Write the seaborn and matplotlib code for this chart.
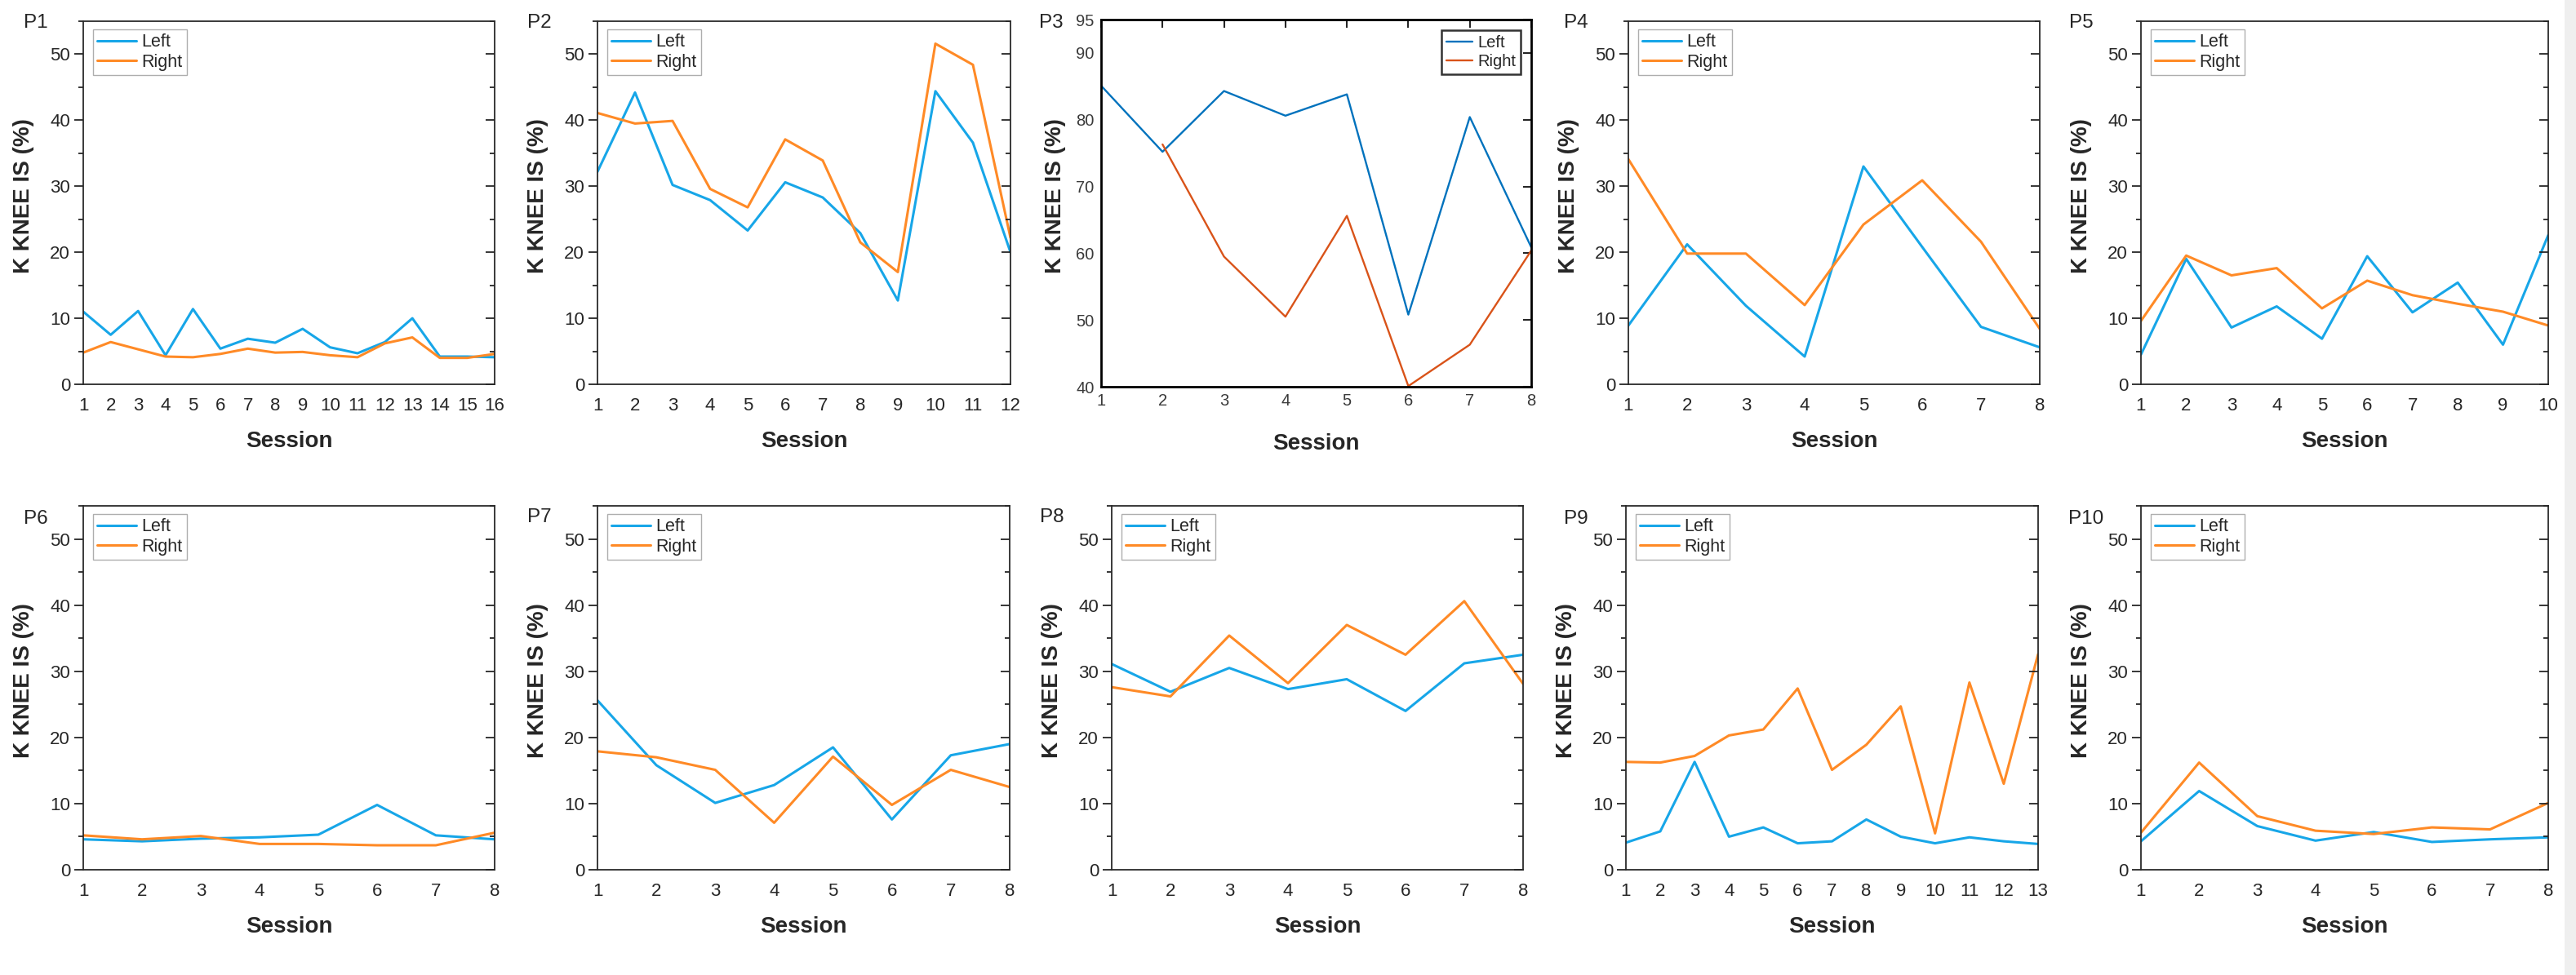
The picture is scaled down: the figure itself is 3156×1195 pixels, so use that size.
import numpy as np
import matplotlib
matplotlib.use("Agg")
import matplotlib.pyplot as plt
from matplotlib.ticker import MultipleLocator
from matplotlib.patches import Rectangle
import seaborn as sns

sns.set_style("white")
plt.rcParams["font.family"] = ["Liberation Sans", "DejaVu Sans"]

# K KNEE IS (%) per session, left and right leg
p1_left = [11.0, 7.5, 11.1, 4.4, 11.4, 5.4, 6.9, 6.3, 8.4, 5.6, 4.7, 6.4, 10.0, 4.2, 4.2, 4.1]
p1_right = [4.8, 6.4, 5.3, 4.2, 4.1, 4.6, 5.4, 4.8, 4.9, 4.4, 4.1, 6.2, 7.1, 4.0, 4.0, 4.6]
p2_left = [32.2, 44.2, 30.2, 27.9, 23.3, 30.6, 28.3, 22.9, 12.7, 44.4, 36.6, 20.0]
p2_right = [41.1, 39.5, 39.9, 29.6, 26.8, 37.1, 33.9, 21.5, 17.0, 51.6, 48.4, 22.2]
p3_left = [85.1, 75.2, 84.3, 80.6, 83.8, 50.8, 80.4, 60.9]
p3_right = [np.nan, 76.3, 59.5, 50.5, 65.6, 40.1, 46.3, 60.4]
p4_left = [8.9, 21.2, 11.9, 4.2, 33.0, 20.8, 8.7, 5.6]
p4_right = [34.1, 19.8, 19.8, 12.0, 24.2, 30.9, 21.6, 8.4]
p5_left = [4.5, 19.0, 8.6, 11.8, 6.9, 19.4, 10.9, 15.4, 6.0, 22.6]
p5_right = [9.6, 19.5, 16.5, 17.6, 11.5, 15.7, 13.5, 12.2, 11.0, 8.9]
p6_left = [4.6, 4.3, 4.7, 4.9, 5.3, 9.8, 5.2, 4.6]
p6_right = [5.2, 4.6, 5.1, 3.9, 3.9, 3.7, 3.7, 5.6]
p7_left = [25.6, 15.8, 10.1, 12.8, 18.5, 7.6, 17.3, 19.0]
p7_right = [17.9, 17.0, 15.1, 7.1, 17.1, 9.8, 15.1, 12.5]
p8_left = [31.1, 26.9, 30.5, 27.3, 28.8, 24.0, 31.2, 32.5]
p8_right = [27.6, 26.2, 35.4, 28.2, 37.0, 32.5, 40.6, 28.1]
p9_left = [4.1, 5.8, 16.3, 5.0, 6.4, 4.0, 4.3, 7.6, 5.0, 4.0, 4.9, 4.3, 3.9]
p9_right = [16.3, 16.2, 17.2, 20.3, 21.2, 27.4, 15.1, 18.9, 24.7, 5.5, 28.3, 13.0, 32.6]
p10_left = [4.3, 11.9, 6.6, 4.4, 5.7, 4.2, 4.6, 4.9]
p10_right = [5.6, 16.2, 8.1, 5.9, 5.4, 6.4, 6.1, 10.1]

names = ["P1", "P2", "P3", "P4", "P5", "P6", "P7", "P8", "P9", "P10"]
lefts = [p1_left, p2_left, p3_left, p4_left, p5_left, p6_left, p7_left, p8_left, p9_left, p10_left]
rights = [p1_right, p2_right, p3_right, p4_right, p5_right, p6_right, p7_right, p8_right, p9_right, p10_right]

W, H = 3156, 1195
# axes boxes in pixels: x0, x1, ytop, ybottom
boxes = [(102, 606, 26, 471), (732, 1238, 26, 471), (1349, 1876, 24, 474),
         (1995, 2499, 26, 471), (2623, 3122, 26, 471),
         (102, 606, 620, 1066), (732, 1237, 620, 1066), (1362, 1866, 620, 1066),
         (1992, 2497, 620, 1066), (2623, 3122, 620, 1066)]
label_pos = [(29, 28), (646, 28), (1273, 28), (1916, 28), (2535, 28),
             (29, 636), (646, 634), (1274, 634), (1916, 636), (2534, 636)]

ORIGIN_BLUE, ORIGIN_ORANGE = "#17A6E8", "#FF8A26"
MATLAB_BLUE, MATLAB_ORANGE = "#0072BD", "#D95319"

fig = plt.figure(figsize=(W / 100, H / 100), dpi=100)
# faint grey strip at the right edge of the scanned figure
fig.patches.append(Rectangle((3142 / W, 0), 14 / W, 1, transform=fig.transFigure,
                             facecolor="#efefef", edgecolor="none", zorder=0))

for i, name in enumerate(names):
    x0, x1, yt, yb = boxes[i]
    wpx, hpx = x1 - x0, yb - yt
    ax = fig.add_axes([x0 / W, 1 - yb / H, wpx / W, hpx / H])
    sessions = np.arange(1, len(lefts[i]) + 1)
    matlab = name == "P3"
    c_l, c_r = (MATLAB_BLUE, MATLAB_ORANGE) if matlab else (ORIGIN_BLUE, ORIGIN_ORANGE)
    lw = 1.7 if matlab else 2.2
    sns.lineplot(x=sessions, y=lefts[i], ax=ax, color=c_l, lw=lw, label="Left")
    sns.lineplot(x=sessions, y=rights[i], ax=ax, color=c_r, lw=lw, label="Right")
    ax.set_xlim(1, len(sessions))
    ax.set_xticks(sessions)

    if matlab:
        ax.set_ylim(40, 95)
        ax.set_yticks([40, 50, 60, 70, 80, 90, 95])
        for s in ax.spines.values():
            s.set_linewidth(2.0)
            s.set_color("black")
        ax.tick_params(axis="both", direction="in", length=7, width=1.5,
                       top=True, right=True, labelsize=14.5, labelcolor="#3a3a3a", pad=6)
        leg = ax.legend(loc="upper right", bbox_to_anchor=(1 - 13 / wpx, 1 - 13 / hpx),
                        borderaxespad=0, fontsize=14.5, frameon=True, fancybox=False,
                        handlelength=1.6, handletextpad=0.3, labelspacing=0.2, borderpad=0.3)
        leg.get_frame().set_edgecolor("black")
        leg.get_frame().set_linewidth(1.8)
        ylab_off = 43
    else:
        ax.set_ylim(0, 55)
        ax.set_yticks(range(0, 51, 10))
        ax.yaxis.set_minor_locator(MultipleLocator(5))
        for s in ax.spines.values():
            s.set_linewidth(1.3)
            s.set_color("#2a2a2a")
        ax.tick_params(axis="x", direction="out", length=8, width=1.3, labelsize=16, pad=3.5)
        ax.tick_params(axis="y", which="major", direction="out", length=8, width=1.3,
                       labelsize=16, pad=3.5)
        ax.tick_params(axis="y", which="minor", direction="out", length=4, width=1.3)
        rax = ax.twinx()
        rax.set_ylim(ax.get_ylim())
        rax.set_yticks(range(0, 51, 10))
        rax.yaxis.set_minor_locator(MultipleLocator(5))
        rax.tick_params(axis="y", which="major", direction="in", length=8, width=1.3, labelright=False)
        rax.tick_params(axis="y", which="minor", direction="in", length=4, width=1.3)
        for s in rax.spines.values():
            s.set_visible(False)
        leg = ax.legend(loc="upper left", bbox_to_anchor=(12 / wpx, 1 - 10 / hpx),
                        borderaxespad=0, fontsize=15.5, frameon=True, fancybox=False,
                        handlelength=2.2, handletextpad=0.3, labelspacing=0.15, borderpad=0.25)
        leg.get_frame().set_edgecolor("#9a9a9a")
        leg.get_frame().set_linewidth(1.0)
        ylab_off = 60

    ax.set_xlabel("Session", fontsize=20, fontweight="bold")
    ax.set_ylabel("K KNEE IS (%)", fontsize=20, fontweight="bold")
    ax.xaxis.set_label_coords(0.5, -57 / hpx)
    ax.yaxis.set_label_coords(-ylab_off / wpx, 0.52)

    lx, ly = label_pos[i]
    fig.text(lx / W, 1 - ly / H, name, fontsize=17.5, ha="left", va="center")

fig.savefig("out.png", dpi=100, facecolor="white")
